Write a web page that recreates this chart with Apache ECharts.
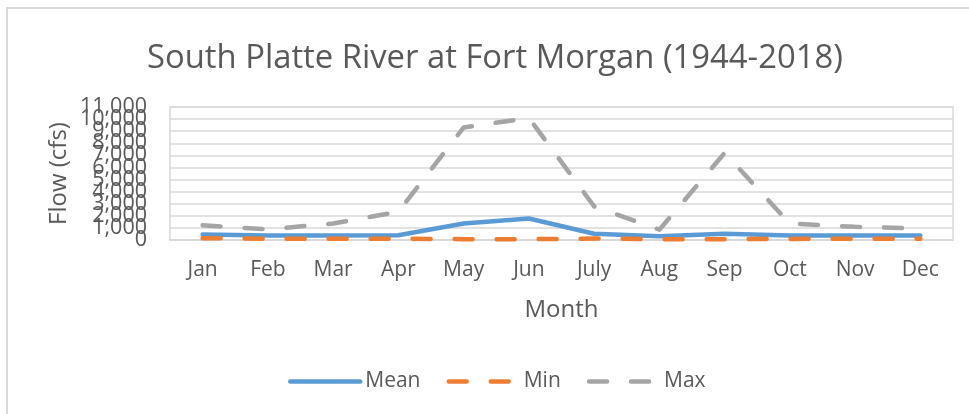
<!DOCTYPE html>
<html>
<head>
<meta charset="utf-8">
<script src="https://cdn.jsdelivr.net/npm/echarts@6/dist/echarts.min.js"></script>
<style>
html,body{margin:0;padding:0;background:#fff;}
#chart{width:969px;height:414px;}
</style>
</head>
<body>
<div id="chart"></div>
<script>
const months = ['Jan','Feb','Mar','Apr','May','Jun','July','Aug','Sep','Oct','Nov','Dec'];
const meanFlow = [450, 380, 380, 390, 1360, 1780, 520, 320, 520, 380, 380, 380];
const minFlow = [150, 100, 100, 100, 70, 70, 120, 70, 70, 90, 110, 110];
const maxFlow = [1220, 880, 1360, 2340, 9300, 10100, 2780, 850, 7200, 1360, 1090, 940];
const yTicks = [0, 11000, 1000];

const FONT = 'Open Sans';
const TXT = '#595959';
const GRID = '#d9d9d9';
const fmt = v => v.toLocaleString('en-US');
const yLabel = {fontFamily: FONT, fontSize: 21.5, color: TXT, margin: 23, formatter: fmt};

const chart = echarts.init(document.getElementById('chart'));
chart.setOption({
  animation: false,
  backgroundColor: '#fff',
  textStyle: {fontFamily: FONT, color: TXT},
  graphic: [{
    type: 'rect', silent: true,
    shape: {x: 7, y: 8, width: 1000, height: 500},
    style: {fill: 'none', stroke: GRID, lineWidth: 2}
  }],
  title: {
    text: 'South Platte River at Fort Morgan (1944-2018)',
    left: 142, top: 37,
    textStyle: {fontFamily: FONT, fontSize: 32.8, fontWeight: 'normal', color: TXT}
  },
  legend: {
    bottom: 17, left: 283,
    itemWidth: 70, itemHeight: 14, itemGap: 26,
    itemStyle: {opacity: 0},
    lineStyle: {width: 4.5, cap: 'round'},
    textStyle: {fontFamily: FONT, fontSize: 21, color: TXT},
    data: ['Mean', 'Min', 'Max']
  },
  grid: {left: 170, right: 16, top: 107, bottom: 174, show: true, borderColor: GRID, borderWidth: 1.5},
  xAxis: {
    type: 'category', data: months, boundaryGap: true,
    name: 'Month', nameLocation: 'middle', nameGap: 58,
    nameTextStyle: {fontFamily: FONT, fontSize: 24, color: TXT},
    axisLine: {show: true, lineStyle: {color: GRID, width: 1.5}},
    axisTick: {show: false},
    axisLabel: {fontFamily: FONT, fontSize: 21, color: TXT, margin: 20}
  },
  yAxis: [{
    type: 'value', min: yTicks[0], max: yTicks[1], interval: yTicks[2],
    name: 'Flow (cfs)', nameLocation: 'middle', nameGap: 99, nameRotate: 90,
    nameMoveOverlap: false,
    nameTextStyle: {fontFamily: FONT, fontSize: 24, color: TXT},
    axisLine: {show: false}, axisTick: {show: false},
    axisLabel: Object.assign({}, yLabel),
    splitLine: {lineStyle: {color: GRID, width: 1.5}}
  }, {
    type: 'value', position: 'left', min: yTicks[0], max: yTicks[1], interval: yTicks[1] - yTicks[0],
    axisLine: {show: false}, axisTick: {show: false}, splitLine: {show: false},
    axisLabel: Object.assign({showMinLabel: true, showMaxLabel: true}, yLabel)
  }],
  series: [
    {name: 'Mean', type: 'line', data: meanFlow, symbol: 'none', z: 3,
     lineStyle: {color: '#5b9bd5', width: 4.5, cap: 'round', join: 'round'},
     itemStyle: {color: '#5b9bd5'}},
    {name: 'Min', type: 'line', data: minFlow, symbol: 'none', z: 4,
     lineStyle: {color: '#ed7d31', width: 4.5, type: [18, 24], cap: 'round', join: 'round'},
     itemStyle: {color: '#ed7d31'}},
    {name: 'Max', type: 'line', data: maxFlow, symbol: 'none', z: 2,
     lineStyle: {color: '#a5a5a5', width: 4.5, type: [18, 24], cap: 'round', join: 'round'},
     itemStyle: {color: '#a5a5a5'}}
  ]
});
</script>
</body>
</html>
